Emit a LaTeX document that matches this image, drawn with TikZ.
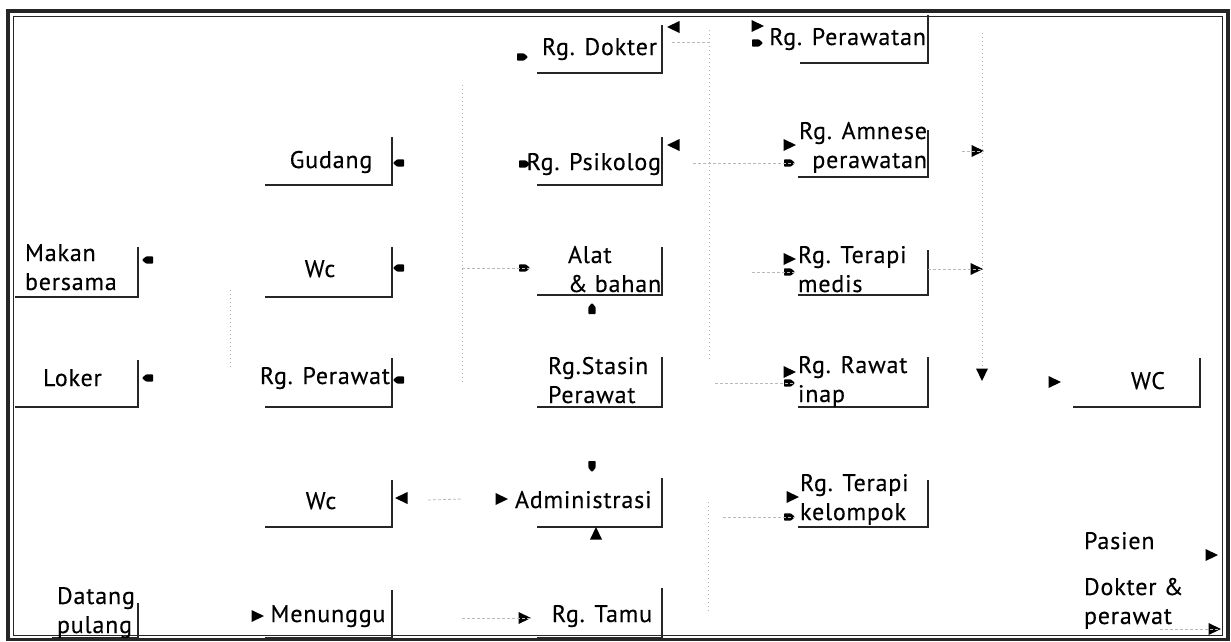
\documentclass[tikz,border=0pt]{standalone}
\usepackage{fontspec}
\setmainfont{PT Sans}[LetterSpace=3.5, FakeBold=0.3]
\newcommand\roombox[5]{%
  \node[area, minimum width={#3-#2}, minimum height={#5-#4}] (#1) at ({(#2+#3)/2},{(#4+#5)/2}) {};
  \draw[wall] (#1.north east) |- (#1.south west);}
\begin{document}
\begin{tikzpicture}[x=1pt,y=-1pt,
  every node/.style={inner sep=0pt, outer sep=0pt},
  lbl/.style={font=\fontsize{24}{29}\selectfont, text=black},
  area/.style={rectangle, draw=none},
  wall/.style={line width=1.8pt, black!85},
  bus/.style={gray!60, line width=0.7pt, dash pattern=on 1pt off 3pt},
  stem/.style={gray!55, line width=0.8pt, dash pattern=on 3pt off 2pt},
  bighead/.pic={\fill[black] (0,0) -- (-12.5,6) -- (-12.5,-6) -- cycle;},
  smallhead/.pic={\fill[black,rounded corners=0.8pt] (0,0) -- (-4,3.6) -- (-11,3.6) -- (-11,-3.6) -- (-4,-3.6) -- cycle;}
]
\useasboundingbox (0,0) rectangle (1231,641);
\fill[white] (0,0) rectangle (1231,641);

% double frame
\draw[line width=3.2pt, black!85] (8,11) rectangle (1228,639.5);
\draw[line width=0.9pt, black!85] (13,16) rectangle (1222,635);

% rooms: right and bottom walls
\roombox{dok}{537}{662}{25}{73}
\roombox{praw}{800}{928}{15}{63}
\roombox{gud}{265}{392}{137}{185}
\roombox{psi}{537}{662}{137}{185}
\roombox{amn}{798}{928}{130}{177}
\roombox{mak}{15}{138}{247}{297}
\roombox{wca}{265}{392}{247}{297}
\roombox{alat}{537}{662}{247}{295}
\roombox{tmed}{798}{928}{250}{295}
\roombox{lok}{15}{138}{360}{407}
\roombox{rper}{265}{392}{358}{407}
\roombox{stas}{537}{662}{357}{407}
\roombox{rinap}{798}{928}{357}{407}
\roombox{wcc}{1073}{1200}{358}{407}
\roombox{wcb}{265}{392}{480}{527}
\roombox{adm}{537}{662}{478}{527}
\roombox{kel}{798}{928}{480}{527}
\roombox{dat}{52}{138}{603}{638}
\roombox{menu}{265}{392}{590}{638}
\roombox{tamu}{537}{662}{588}{638}

% room names (multi-line names are anchored on their last line)
\node[lbl, anchor=base west] (dok-t) at (542,55) {Rg. Dokter};
\node[lbl, anchor=base east] (praw-t) at (926,45) {Rg. Perawatan};
\node[lbl, anchor=base] (gud-t) at (331,168) {Gudang};
\node[lbl, anchor=base east] (psi-t) at (661,170) {Rg. Psikolog};
\node[lbl, anchor=base east, align=right] (amn-t) at (927,168) {Rg. Amnese\\perawatan};
\node[lbl, anchor=base west, align=left] (mak-t) at (25,290) {Makan\\bersama};
\node[lbl, anchor=base] (wca-t) at (320,277) {Wc};
\node[lbl, anchor=base west, align=left] (alat-t) at (568,292) {Alat\\\& bahan};
\node[lbl, anchor=base west, align=left] (tmed-t) at (798,292) {Rg. Terapi\\medis};
\node[lbl, anchor=base west] (lok-t) at (43,386) {Loker};
\node[lbl, anchor=base east] (rper-t) at (390,384) {Rg. Perawat};
\node[lbl, anchor=base west, align=left] (stas-t) at (548,403) {Rg.Stasin\\Perawat};
\node[lbl, anchor=base west, align=left] (rinap-t) at (798,402) {Rg. Rawat\\inap};
\node[lbl, anchor=base] (wcc-t) at (1148,389) {WC};
\node[lbl, anchor=base] (wcb-t) at (321,509) {Wc};
\node[lbl, anchor=base west] (adm-t) at (515,508) {Administrasi};
\node[lbl, anchor=base west, align=left] (kel-t) at (800,520) {Rg. Terapi\\kelompok};
\node[lbl, anchor=base west, align=left] (dat-t) at (57,633) {Datang\\pulang};
\node[lbl, anchor=base] (menu-t) at (328,622) {Menunggu};
\node[lbl, anchor=base] (tamu-t) at (602,622) {Rg. Tamu};

% legend
\node[lbl, anchor=base west] (pas-t) at (1084,549) {Pasien};
\node[lbl, anchor=base west, align=left] (dp-t) at (1084,624) {Dokter \&\\perawat};

% circulation lines
\coordinate (busA1) at (230,290);   \coordinate (busA2) at (230,368);
\coordinate (busB1) at (462,85);    \coordinate (busB2) at (462,385);
\coordinate (busC1) at (709,30);    \coordinate (busC2) at (709,360);
\coordinate (busD1) at (708,502);   \coordinate (busD2) at (708,612);
\coordinate (busE1) at (982,33);    \coordinate (busE2) at (982,368);
\draw[bus] (busA1) -- (busA2);
\draw[bus] (busB1) -- (busB2);
\draw[bus] (busC1) -- (busC2);
\draw[bus] (busD1) -- (busD2);
\draw[bus] (busE1) -- (busE2);

% arrow tips
\coordinate (hDokL) at (667,27);    \pic[rotate=180] at (hDokL) {bighead};
\coordinate (hPrawT) at (764,26);   \pic at (hPrawT) {bighead};
\coordinate (hPsiL) at (667,145);   \pic[rotate=180] at (hPsiL) {bighead};
\coordinate (hAmnT) at (796,145);   \pic at (hAmnT) {bighead};
\coordinate (hAmnO) at (984,151);   \pic at (hAmnO) {bighead};
\coordinate (hMedO) at (983,269);   \pic at (hMedO) {bighead};
\coordinate (hMedT) at (796,259);   \pic at (hMedT) {bighead};
\coordinate (hInapT) at (796,372);  \pic at (hInapT) {bighead};
\coordinate (hBusE) at (982,381);   \pic[rotate=-90] at (hBusE) {bighead};
\coordinate (hWcc) at (1061,382);   \pic at (hWcc) {bighead};
\coordinate (hWcb) at (395,498);    \pic[rotate=180] at (hWcb) {bighead};
\coordinate (hAdmL) at (508,499);   \pic at (hAdmL) {bighead};
\coordinate (hAdmB) at (596,527);   \pic[rotate=90] at (hAdmB) {bighead};
\coordinate (hKelT) at (799,497);   \pic at (hKelT) {bighead};
\coordinate (hMenu) at (264,616);   \pic at (hMenu) {bighead};
\coordinate (hTamu) at (531,618);   \pic at (hTamu) {bighead};
\coordinate (hPas) at (1218,555);   \pic at (hPas) {bighead};
\coordinate (hDp) at (1221,629);    \pic at (hDp) {bighead};

\coordinate (sDok) at (528,57);     \pic at (sDok) {smallhead};
\coordinate (sPraw) at (763,43);    \pic at (sPraw) {smallhead};
\coordinate (sGud) at (393,163);    \pic[rotate=180] at (sGud) {smallhead};
\coordinate (sPsi) at (530,164);    \pic at (sPsi) {smallhead};
\coordinate (sAmn) at (795,163);    \pic at (sAmn) {smallhead};
\coordinate (sMak) at (142,260);    \pic[rotate=180] at (sMak) {smallhead};
\coordinate (sWca) at (393,268);    \pic[rotate=180] at (sWca) {smallhead};
\coordinate (sAlat) at (530,268);   \pic at (sAlat) {smallhead};
\coordinate (sAlatB) at (592,303);  \pic[rotate=90] at (sAlatB) {smallhead};
\coordinate (sMed) at (795,272);    \pic at (sMed) {smallhead};
\coordinate (sLok) at (142,378);    \pic[rotate=180] at (sLok) {smallhead};
\coordinate (sRper) at (393,380);   \pic[rotate=180] at (sRper) {smallhead};
\coordinate (sInap) at (795,383);   \pic at (sInap) {smallhead};
\coordinate (sAdmT) at (592,472);   \pic[rotate=-90] at (sAdmT) {smallhead};
\coordinate (sKel) at (795,517);    \pic at (sKel) {smallhead};

% dotted stems leading to the tips
\draw[stem] (672,42) -- (709,42);
\draw[stem] (693,163) -- (sAmn);
\draw[stem] (busB1 |- sAlat) -- (sAlat);
\draw[stem] (752,272) -- (sMed);
\draw[stem] (715,383) -- (sInap);
\draw[stem] (tmed.east |- hMedO) -- (hMedO);
\draw[stem] (962,151) -- (hAmnO);
\draw[stem] (428,500) -- (busB1 |- hAdmL);
\draw[stem] (723,517) -- (sKel);
\draw[stem] (busB1 |- hTamu) -- (hTamu);
\draw[stem] (1160,629) -- (hDp);
\end{tikzpicture}
\end{document}
